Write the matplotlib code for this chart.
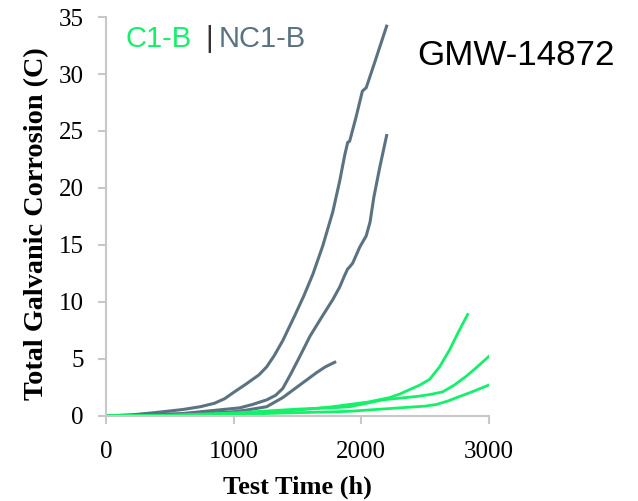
import matplotlib
matplotlib.use("Agg")
import matplotlib.pyplot as plt

# NC1-B (gray) curves
nc1_x = [0, 200, 400, 600, 740, 850, 930, 1000, 1100, 1200, 1260, 1320, 1386, 1480, 1550, 1621, 1699, 1778, 1832, 1872, 1895, 1910, 1960, 2010, 2040, 2100, 2150, 2200]
nc1_y = [0, 0.08, 0.3, 0.55, 0.8, 1.1, 1.5, 2.05, 2.8, 3.6, 4.3, 5.3, 6.6, 8.8, 10.5, 12.4, 14.9, 17.9, 20.6, 22.9, 24.0, 24.1, 26.2, 28.5, 28.8, 30.8, 32.5, 34.2]
nc2_x = [0, 200, 600, 1049, 1150, 1260, 1330, 1386, 1450, 1519, 1600, 1699, 1778, 1832, 1870, 1895, 1905, 1934, 1989, 2030, 2040, 2070, 2100, 2146, 2200]
nc2_y = [0, 0.05, 0.2, 0.7, 1.0, 1.4, 1.8, 2.4, 3.7, 5.2, 7.0, 8.8, 10.2, 11.3, 12.3, 12.9, 13.0, 13.4, 14.8, 15.6, 15.8, 17.0, 19.2, 21.8, 24.6]
nc3_x = [0, 300, 700, 995, 1100, 1260, 1386, 1519, 1652, 1720, 1793]
nc3_y = [0, 0.05, 0.15, 0.35, 0.5, 0.8, 1.6, 2.7, 3.8, 4.3, 4.7]

# C1-B (green) curves
c1_x = [0, 500, 1000, 1260, 1500, 1778, 1911, 2050, 2224, 2300, 2380, 2460, 2537, 2615, 2694, 2760, 2835]
c1_y = [0, 0.03, 0.12, 0.26, 0.5, 0.8, 1.0, 1.2, 1.6, 1.9, 2.3, 2.7, 3.2, 4.3, 5.8, 7.3, 8.9]
c2_x = [0, 500, 1000, 1519, 1778, 1911, 2044, 2169, 2435, 2530, 2639, 2730, 2827, 2910, 3000]
c2_y = [0, 0.05, 0.25, 0.6, 0.7, 0.8, 1.1, 1.4, 1.7, 1.85, 2.1, 2.7, 3.5, 4.3, 5.2]
c3_x = [0, 500, 1000, 1400, 1778, 1911, 2302, 2500, 2592, 2680, 2749, 2880, 3000]
c3_y = [0, 0.03, 0.12, 0.25, 0.35, 0.4, 0.7, 0.85, 1.0, 1.3, 1.6, 2.15, 2.7]

x_ticks = [0, 1000, 2000, 3000]
y_ticks = [0, 5, 10, 15, 20, 25, 30, 35]

GRAY = "#5b7280"
GREEN = "#14f06a"

fig = plt.figure(figsize=(6.38, 5.01), dpi=100)
ax = fig.add_axes([0.166, 0.170, 0.600, 0.796])

for xs, ys in [(nc1_x, nc1_y), (nc2_x, nc2_y), (nc3_x, nc3_y)]:
    ax.plot(xs, ys, color=GRAY, lw=2.2, solid_joinstyle="round")
for xs, ys in [(c1_x, c1_y), (c2_x, c2_y), (c3_x, c3_y)]:
    ax.plot(xs, ys, color=GREEN, lw=2.0, solid_joinstyle="round")

ax.set_xlim(0, 3000)
ax.set_ylim(0, 35)
ax.set_xticks(x_ticks)
ax.set_yticks(y_ticks)
for s in ["top", "right"]:
    ax.spines[s].set_visible(False)
for s in ["left", "bottom"]:
    ax.spines[s].set_color("#c8c8c8")
    ax.spines[s].set_linewidth(1.5)
ax.tick_params(axis="both", colors="#c8c8c8", length=6, width=1.5, labelcolor="black",
               labelsize=18)
ax.tick_params(axis="y", pad=10)
ax.tick_params(axis="x", pad=12)
for lab in ax.get_xticklabels() + ax.get_yticklabels():
    lab.set_fontfamily("Liberation Serif")

ax.set_xlabel("Test Time (h)", fontsize=19, fontweight="bold", family="Liberation Serif", labelpad=9)
ax.set_ylabel("Total Galvanic Corrosion (C)", fontsize=20.3, fontweight="bold", family="Liberation Serif",
              ha="center", va="center")
ax.yaxis.set_label_coords(37 / 638, 0.553, transform=fig.transFigure)

fig.text(0.196, 0.906, "C1-B", color=GREEN, fontsize=21, family="Liberation Sans", ha="left", va="baseline")
fig.text(0.322, 0.906, "|", color="#333333", fontsize=21, family="Liberation Sans", ha="left", va="baseline")
fig.text(0.342, 0.906, "NC1-B", color=GRAY, fontsize=21, family="Liberation Sans", ha="left", va="baseline")
fig.text(0.654, 0.870, "GMW-14872", color="black", fontsize=25.2, family="Liberation Sans", ha="left", va="baseline")

fig.savefig("out.png", dpi=100)
